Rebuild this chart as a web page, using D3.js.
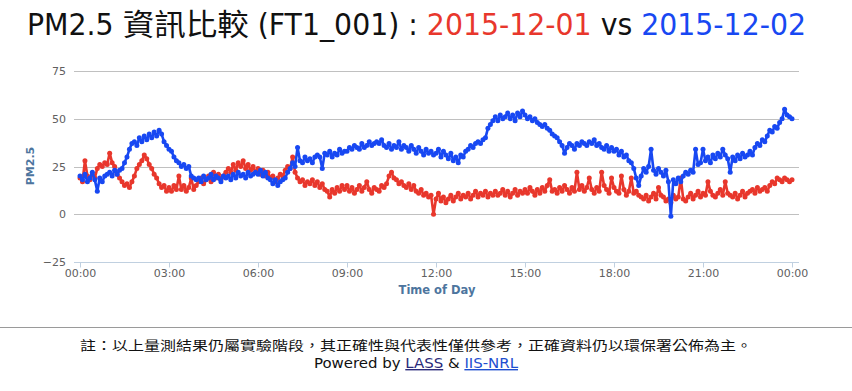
<!DOCTYPE html>
<html><head><meta charset="utf-8">
<script src="https://cdn.jsdelivr.net/npm/d3@7"></script>
<style>
html,body{margin:0;padding:0;background:#fff;}
svg{display:block;}
</style>
</head><body>
<svg id="chart" width="852" height="391"></svg>
<script>
// ---- data (5-minute samples, 00:00 .. 24:00) ----
const dateA = "2015-12-01";
const dateB = "2015-12-02";
const sensorId = "FT1_001";
const yTicks = [-25, 0, 25, 50, 75];
const xTickLabels = ["00:00","03:00","06:00","09:00","12:00","15:00","18:00","21:00","00:00"];
const sampleMinutes = 5;

const seriesA = [ // 2015-12-01 (red)
 19,17,28,20,18,21,19,24,26,25,27,26,
 32,27,25,21,19,17,15,16,14,17,20,24,
 26,28,31,29,26,24,21,19,16,14,15,12,
 14,12,15,13,20,13,15,12,14,19,13,15,
 17,19,16,18,20,17,22,19,21,18,20,22,
 24,22,26,23,27,25,28,24,26,23,25,22,
 24,21,23,20,22,19,20,17,19,21,20,23,
 25,24,30,22,19,17,18,15,17,16,18,15,
 17,14,16,13,12,9,13,11,14,12,15,13,
 15,12,14,11,13,15,12,14,17,13,11,14,
 13,12,15,14,16,20,22,19,18,16,17,15,
 14,16,13,15,12,11,13,10,11,9,10,0,
 8,11,7,9,6,8,10,7,9,11,8,10,
 9,11,8,10,12,9,11,10,12,9,11,10,
 12,10,11,13,10,12,9,11,13,10,12,11,
 13,11,14,12,10,13,11,14,12,15,18,12,
 13,11,14,12,15,13,11,14,12,22,13,15,
 12,14,19,13,11,14,12,22,15,13,11,19,
 14,12,11,20,13,10,12,19,11,12,10,9,
 8,10,7,9,11,8,14,10,9,7,8,6,
 10,8,9,19,8,7,9,11,8,10,12,9,
 11,10,17,12,10,9,11,13,10,17,11,10,
 9,11,8,10,12,9,11,12,13,11,14,12,
 13,14,12,15,17,16,19,18,17,19,18,17,
 18
];

const seriesB = [ // 2015-12-02 (blue)
 20,18,21,17,19,22,18,12,19,17,20,21,
 22,20,23,21,23,24,27,30,34,37,38,36,
 40,38,41,39,42,40,43,41,44,42,38,36,
 34,33,30,28,27,25,26,24,25,20,19,18,
 19,17,20,18,19,21,18,20,19,17,20,19,
 20,18,21,19,22,20,21,19,22,20,21,22,
 21,23,20,22,19,18,16,18,15,17,18,19,
 22,24,27,25,35,28,27,30,28,29,27,30,
 31,30,24,32,31,33,30,32,31,34,32,33,
 33,35,34,36,35,34,37,35,36,38,36,37,
 38,37,39,36,35,37,34,36,35,38,34,36,
 35,33,36,34,32,35,33,31,34,32,33,31,
 32,34,30,33,31,29,32,28,30,27,31,30,
 33,34,36,35,37,38,37,39,40,45,47,49,
 51,49,52,50,51,53,50,52,49,53,51,54,
 52,50,51,49,50,48,47,46,47,45,44,42,
 41,40,38,36,32,35,37,36,34,37,36,38,
 37,36,38,37,39,36,37,35,34,36,33,35,
 33,34,31,33,30,31,28,27,24,19,15,20,
 24,22,25,34,23,21,24,22,20,23,17,-1,
 18,16,19,17,20,22,21,23,22,34,26,27,
 34,28,30,27,31,29,32,30,34,31,29,22,
 30,28,31,29,32,30,31,33,31,35,37,36,
 39,38,41,44,43,46,45,48,50,55,52,51,
 50
];

const colorA = "#e8372c";
const colorB = "#1848f2";

// ---- layout ----
const svg = d3.select("#chart");
const plotLeft = 74, plotRight = 799, plotTop = 71, plotBottom = 262;
const t0 = Date.UTC(2015, 11, 2, 0, 0);
const t1 = Date.UTC(2015, 11, 3, 0, 0);
const x = d3.scaleUtc().domain([t0, t1]).range([80, 792]);
const y = d3.scaleLinear().domain([-25, 75]).range([plotBottom, plotTop]);

const toPts = arr => arr.map((v, i) => ({t: t0 + i * sampleMinutes * 60000, v}));
const ptsA = toPts(seriesA), ptsB = toPts(seriesB);

// Title
const title = svg.append("text")
  .attr("x", 27).attr("y", 35)
  .attr("font-size", 30)
  .attr("font-family", "'Liberation Sans Narrow','DejaVu Sans Condensed','Noto Sans CJK TC',sans-serif")
  .attr("textLength", 779).attr("lengthAdjust", "spacingAndGlyphs");
title.append("tspan").attr("fill", "#111").text(`PM2.5 資訊比較 (${sensorId}) : `);
title.append("tspan").attr("fill", colorA).text(dateA);
title.append("tspan").attr("fill", "#111").text(" vs ");
title.append("tspan").attr("fill", colorB).text(dateB);

// Grid lines
const gridG = svg.append("g");
gridG.selectAll("line").data(yTicks.filter(d => d !== -25)).join("line")
  .attr("x1", plotLeft).attr("x2", plotRight)
  .attr("y1", d => Math.round(y(d)) + 0.5).attr("y2", d => Math.round(y(d)) + 0.5)
  .attr("stroke", "#c0c0c0").attr("stroke-width", 1);

// Y axis labels
const yAxis = d3.axisLeft(y).tickValues(yTicks).tickSize(0).tickPadding(0).tickFormat(d3.format("d"));
const yg = svg.append("g").attr("transform", `translate(66,0)`).call(yAxis);
yg.select(".domain").remove();
yg.selectAll("text").attr("font-family", "'DejaVu Sans',sans-serif").attr("font-size", 11).attr("fill", "#606060");

// X axis
const xAxis = d3.axisBottom(x)
  .ticks(d3.utcHour.every(3))
  .tickSize(5).tickPadding(2)
  .tickFormat((d, i) => xTickLabels[i]);
const xg = svg.append("g").attr("transform", `translate(0,${plotBottom + 0.5})`).call(xAxis);
xg.select(".domain").attr("d", `M${plotLeft},0H${plotRight}`).attr("stroke", "#c0d0e0");
xg.selectAll(".tick line").attr("stroke", "#c0d0e0");
xg.selectAll("text").attr("font-family", "'DejaVu Sans',sans-serif").attr("font-size", 11).attr("fill", "#606060");

// Axis titles
svg.append("text").attr("transform", "translate(34,166) rotate(-90)")
  .attr("text-anchor", "middle").attr("font-family", "'DejaVu Sans',sans-serif")
  .attr("font-size", 11).attr("font-weight", "bold").attr("fill", "#4d759e").text("PM2.5");
svg.append("text").attr("x", 437).attr("y", 294)
  .attr("text-anchor", "middle").attr("font-family", "'DejaVu Sans',sans-serif")
  .attr("font-size", 11.5).attr("font-weight", "bold").attr("fill", "#4d759e").text("Time of Day");

// Series
svg.append("clipPath").attr("id", "clip").append("rect")
  .attr("x", plotLeft - 4).attr("y", plotTop - 4).attr("width", plotRight - plotLeft + 8).attr("height", plotBottom - plotTop + 8);
const line = d3.line().x(d => x(d.t)).y(d => y(d.v));
const plotG = svg.append("g").attr("clip-path", "url(#clip)");
[[ptsA, colorA], [ptsB, colorB]].forEach(([pts, c]) => {
  plotG.append("path").datum(pts).attr("d", line).attr("fill", "none")
    .attr("stroke", c).attr("stroke-width", 2.6).attr("stroke-linejoin", "round");
  plotG.append("g").selectAll("circle").data(pts).join("circle")
    .attr("cx", d => x(d.t)).attr("cy", d => y(d.v)).attr("r", 2.5).attr("fill", c);
});

// Footer
svg.append("line").attr("x1", 0).attr("x2", 852).attr("y1", 327.5).attr("y2", 327.5)
  .attr("stroke", "#9a9a9a").attr("stroke-width", 1);
svg.append("text").attr("x", 416).attr("y", 350).attr("text-anchor", "middle")
  .attr("font-family", "'Noto Sans CJK TC',sans-serif").attr("font-size", 13).attr("fill", "#111")
  .attr("textLength", 672).attr("lengthAdjust", "spacingAndGlyphs")
  .text("註：以上量測結果仍屬實驗階段，其正確性與代表性僅供參考，正確資料仍以環保署公佈為主。");
const pw = svg.append("text").attr("x", 416).attr("y", 368).attr("text-anchor", "middle")
  .attr("font-family", "'Liberation Sans Narrow','DejaVu Sans Condensed',sans-serif").attr("font-size", 14).attr("fill", "#111")
  .attr("textLength", 204).attr("lengthAdjust", "spacingAndGlyphs");
pw.append("tspan").text("Powered by ");
pw.append("tspan").attr("fill", "#2a2a7a").attr("text-decoration", "underline").text("LASS");
pw.append("tspan").text(" & ");
pw.append("tspan").attr("fill", "#1f4fd0").attr("text-decoration", "underline").text("IIS-NRL");
</script>
</body></html>
